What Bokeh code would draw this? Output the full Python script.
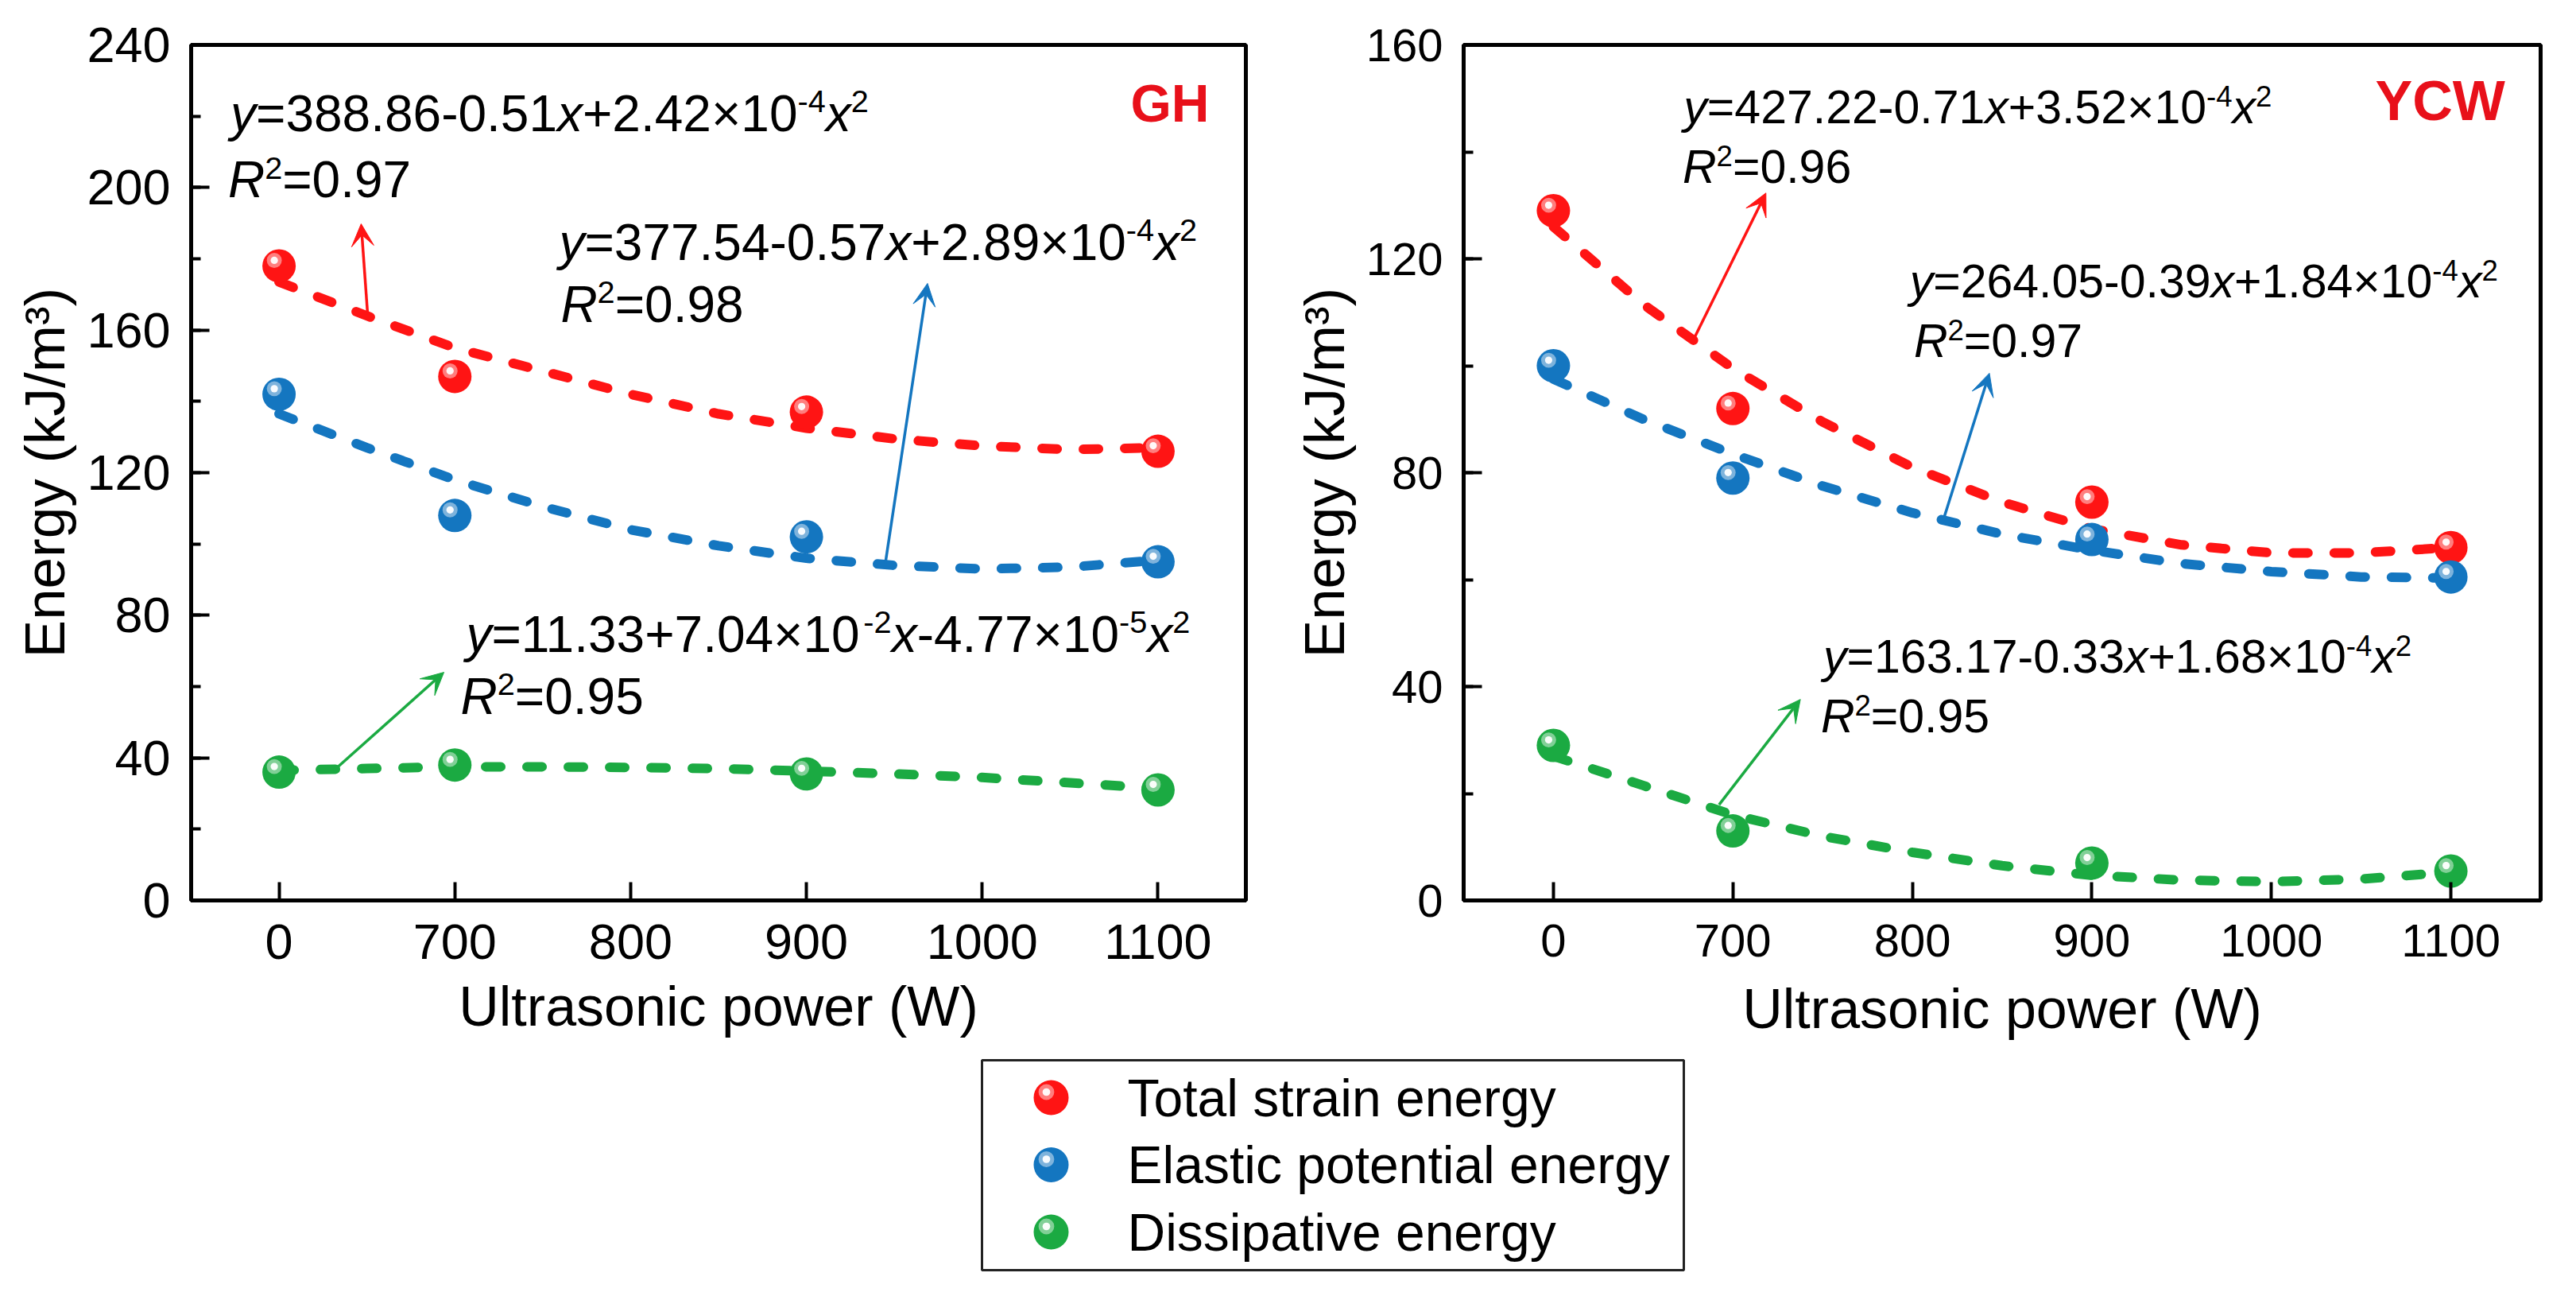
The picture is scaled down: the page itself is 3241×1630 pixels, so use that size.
"""
Strain energy vs ultrasonic power for GH and YCW samples, two panels + shared legend.
"""
import re

from bokeh.core.properties import value
from bokeh.embed import file_html
from bokeh.layouts import column, row
from bokeh.models import Arrow, FixedTicker, Range1d, SingleIntervalTicker, VeeHead
from bokeh.plotting import figure
from bokeh.resources import INLINE

FONT = "Liberation Sans"

# categories on the x axis and the powers that were measured
POWERS = ["0", "700", "800", "900", "1000", "1100"]
MEASURED = ["0", "700", "900", "1100"]

SERIES = ["Total strain energy", "Elastic potential energy", "Dissipative energy"]
COLORS = ["#FF1414", "#1476C0", "#1BAA42"]

# energies, kJ/m3
GH_TOTAL = [178, 147, 137, 126]
GH_ELASTIC = [142, 108, 102, 95]
GH_DISSIPATIVE = [36, 38, 35.5, 31]

YCW_TOTAL = [129, 92, 74.5, 66]
YCW_ELASTIC = [100, 79, 67.5, 60.5]
YCW_DISSIPATIVE = [29, 13, 7, 5.5]

# dashed fit curves every half category
FIT_POS = [0, 0.5, 1, 1.5, 2, 2.5, 3, 3.5, 4, 4.5, 5]
GH_TOTAL_FIT = [173.5, 164.0, 155.0, 148.5, 142.0, 136.5, 132.5, 129.5, 127.5, 126.5, 127.0]
GH_ELASTIC_FIT = [136.5, 127.0, 118.0, 110.5, 104.0, 99.5, 96.0, 94.0, 93.0, 93.5, 95.5]
GH_DISSIPATIVE_FIT = [36.5, 37.0, 37.5, 37.5, 37.3, 37.0, 36.3, 35.5, 34.5, 33.0, 31.5]
YCW_TOTAL_FIT = [126.0, 111.5, 99.5, 89.5, 81.0, 74.5, 69.5, 66.5, 65.0, 65.0, 66.0]
YCW_ELASTIC_FIT = [97.5, 90.0, 83.5, 77.5, 72.5, 68.5, 65.5, 63.0, 61.5, 60.5, 60.3]
YCW_DISSIPATIVE_FIT = [27.0, 21.5, 16.0, 12.0, 9.0, 6.5, 4.7, 3.8, 3.5, 4.0, 5.3]

# fit equations: _italic_ and ^{superscript}
GH_EQUATIONS = [
    "_y_=388.86-0.51_x_+2.42×10^{-4}_x_^{2}", "_R_^{2}=0.97",
    "_y_=377.54-0.57_x_+2.89×10^{-4}_x_^{2}", "_R_^{2}=0.98",
    "_y_=11.33+7.04×10^{-2}_x_-4.77×10^{-5}_x_^{2}", "_R_^{2}=0.95",
]
YCW_EQUATIONS = [
    "_y_=427.22-0.71_x_+3.52×10^{-4}_x_^{2}", "_R_^{2}=0.96",
    "_y_=264.05-0.39_x_+1.84×10^{-4}_x_^{2}", "_R_^{2}=0.97",
    "_y_=163.17-0.33_x_+1.68×10^{-4}_x_^{2}", "_R_^{2}=0.95",
]
# where each equation line starts (category position, energy at baseline)
GH_EQ_AT = [(-0.276, 215.8), (-0.29, 197.1), (1.593, 179.6), (1.602, 162.1), (1.064, 69.6), (1.033, 52.2)]
YCW_EQ_AT = [(0.726, 145.3), (0.72, 134.2), (1.985, 112.7), (2.008, 101.6), (1.504, 42.6), (1.49, 31.4)]
# sample name, right edge and middle
GH_NAME_AT = (5.292, 223.7)
YCW_NAME_AT = (5.302, 149.5)

# arrows from curve to equation: x0, y0, x1, y1
GH_ARROWS = [(0.504, 164.4, 0.467, 189.8), (3.447, 93.9, 3.689, 173.1), (0.308, 36.3, 0.938, 64.0)]
YCW_ARROWS = [(0.772, 104.3, 1.184, 132.3), (2.168, 70.7, 2.429, 98.6), (0.923, 17.9, 1.376, 37.6)]

# Arial / Liberation Sans advance widths (em)
ADV = {**{d: 0.556 for d in "0123456789"}, ".": 0.278, "-": 0.333, "+": 0.584,
       "=": 0.584, "×": 0.584, "x": 0.5, "y": 0.5, "R": 0.722}


def parse(markup):
    out = []
    for tok in re.findall(r"_[^_]+_|\^\{[^}]*\}|[^_^]+", markup):
        if tok.startswith("_"):
            out.append((tok[1:-1], "italic", False))
        elif tok.startswith("^"):
            out.append((tok[2:-1], "normal", True))
        else:
            out.append((tok, "normal", False))
    return out


def draw_equation(p, markup, x, y_base, size, px_y):
    # anchor every piece on the middle of the main line
    y = y_base + 0.35 * size / px_y
    off = 0.0
    for txt, style, sup in parse(markup):
        fs = size * 0.62 if sup else size
        p.text(x=[x], y=[y], text=[txt], x_offset=off, y_offset=-0.24 * size if sup else 0,
               text_font=value(FONT), text_font_size=value(f"{fs:.1f}px"),
               text_font_style=value(style), text_color="black",
               text_align="left", text_baseline="middle")
        off += sum(ADV.get(c, 0.556) for c in txt) * fs


def spheres(p, xs, ys, color, size, px_x, px_y):
    p.scatter(xs, ys, size=size, fill_color=color, line_color=None)
    hx = [x - 6 / px_x for x in xs]
    hy = [y + 7 / px_y for y in ys]
    p.scatter(hx, hy, size=size * 0.45, fill_color="white", fill_alpha=0.45, line_color=None)
    p.scatter(hx, hy, size=size * 0.22, fill_color="white", fill_alpha=0.95, line_color=None)


def panel(name, name_at, ymax, values, fits, equations, eq_at, arrows, w, h, borders,
          tick_px, eq_px, name_px, xlabel_standoff):
    top, right, bottom, left = borders
    p = figure(width=w, height=h, x_range=Range1d(-0.5, len(POWERS) - 0.5), y_range=Range1d(0, ymax),
               min_border_top=top, min_border_right=right, min_border_bottom=bottom,
               min_border_left=left, toolbar_location=None, output_backend="svg",
               x_axis_label="Ultrasonic power (W)", y_axis_label="Energy (kJ/m³)")
    p.xgrid.visible = False
    p.ygrid.visible = False
    p.outline_line_color = "black"
    p.outline_line_width = 5
    p.background_fill_color = "white"
    p.border_fill_color = "white"

    p.xaxis.ticker = FixedTicker(ticks=list(range(len(POWERS))), minor_ticks=[])
    p.xaxis.major_label_overrides = {i: s for i, s in enumerate(POWERS)}
    p.yaxis.ticker = SingleIntervalTicker(interval=40, num_minor_ticks=2)
    for ax in (p.xaxis[0], p.yaxis[0]):
        ax.axis_line_width = 5
        ax.major_tick_line_width = 4
        ax.minor_tick_line_width = 4
        ax.major_tick_in = 23
        ax.major_tick_out = 0
        ax.minor_tick_in = 12
        ax.minor_tick_out = 0
        ax.major_label_text_font = FONT
        ax.major_label_text_font_size = f"{tick_px}px"
        ax.major_label_text_color = "black"
        ax.axis_label_text_font = FONT
        ax.axis_label_text_font_style = "normal"
        ax.axis_label_text_color = "black"
    p.xaxis.major_label_standoff = 30
    p.xaxis.axis_label_text_font_size = "70px"
    p.xaxis.axis_label_standoff = xlabel_standoff
    p.yaxis.major_label_standoff = 26
    p.yaxis.axis_label_text_font_size = "71px"
    p.yaxis.axis_label_standoff = 10

    px_x = (w - left - right) / len(POWERS)
    px_y = (h - top - bottom) / ymax
    pos = [POWERS.index(m) for m in MEASURED]

    for fit, color in zip(fits, COLORS):
        p.line(FIT_POS, fit, line_color=color, line_width=12, line_dash="19 33", line_cap="round")
    for vals, color in zip(values, COLORS):
        spheres(p, pos, vals, color, 42, px_x, px_y)
    for (x0, y0, x1, y1), color in zip(arrows, COLORS):
        p.add_layout(Arrow(x_start=x0, y_start=y0, x_end=x1, y_end=y1, line_color=color, line_width=3.5,
                           end=VeeHead(size=28, fill_color=color, line_color=color, line_width=1)))
    for markup, (x, y) in zip(equations, eq_at):
        draw_equation(p, markup, x, y, eq_px, px_y)

    p.text(x=[name_at[0]], y=[name_at[1]], text=[name], text_align="right",
           text_baseline="middle", text_font=value(FONT), text_font_style="bold",
           text_font_size=value(f"{name_px}px"), text_color="#E8101A")
    return p


gh = panel("GH", GH_NAME_AT, 240, [GH_TOTAL, GH_ELASTIC, GH_DISSIPATIVE],
           [GH_TOTAL_FIT, GH_ELASTIC_FIT, GH_DISSIPATIVE_FIT],
           GH_EQUATIONS, GH_EQ_AT, GH_ARROWS,
           1600, 1330, (56, 33, 198, 240), 63, 64, 66, 18)
ycw = panel("YCW", YCW_NAME_AT, 160, [YCW_TOTAL, YCW_ELASTIC, YCW_DISSIPATIVE],
            [YCW_TOTAL_FIT, YCW_ELASTIC_FIT, YCW_DISSIPATIVE_FIT],
            YCW_EQUATIONS, YCW_EQ_AT, YCW_ARROWS,
            1625, 1330, (46, 29, 191, 241), 58, 59, 70, 24)

# legend strip, drawn in page pixels
leg = figure(width=3225, height=284, x_range=Range1d(8, 3233), y_range=Range1d(1622, 1338),
             min_border=0, toolbar_location=None, output_backend="svg")
leg.axis.visible = False
leg.grid.visible = False
leg.outline_line_color = None
leg.quad(left=1243, right=2126, top=1341, bottom=1605, fill_color=None, line_color="#222222", line_width=3)
row_y = [1388 + 84.5 * k for k in range(len(SERIES))]
for yk, color in zip(row_y, COLORS):
    spheres(leg, [1330], [yk], color, 44, 1, -1)
leg.text(x=[1426] * len(SERIES), y=row_y, text=SERIES,
         text_font=value(FONT), text_font_size=value("66px"), text_color="black",
         text_align="left", text_baseline="middle")

page = column(row(gh, ycw), leg)
open("out.html", "w").write(file_html(page, INLINE))
